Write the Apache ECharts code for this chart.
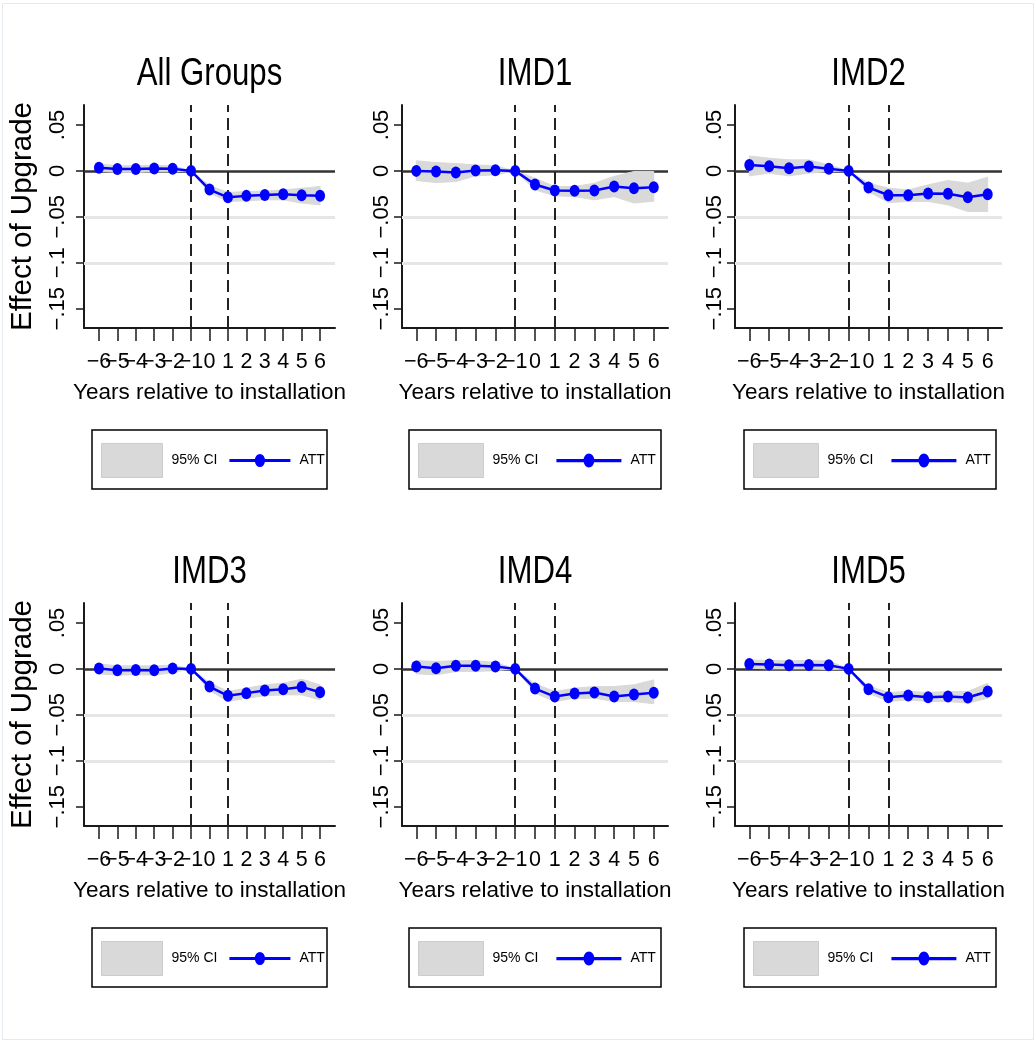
<!DOCTYPE html>
<html><head><meta charset="utf-8">
<script src="https://cdn.jsdelivr.net/npm/echarts@6/dist/echarts.min.js"></script>
<style>html,body{margin:0;padding:0;background:#fff}#c{width:1036px;height:1042px}</style>
</head><body><div id="c"></div>
<script>
// ---------- data ----------
const panelTitles = ['All Groups', 'IMD1', 'IMD2', 'IMD3', 'IMD4', 'IMD5'];
const years = [-6, -5, -4, -3, -2, -1, 0, 1, 2, 3, 4, 5, 6];
const xTickLabels = ['−6', '−5', '−4', '−3', '−2', '−1', '0', '1', '2', '3', '4', '5', '6'];
const yTickValues = [0.05, 0, -0.05, -0.1, -0.15];
const yTickLabels = ['.05', '0', '−.05', '−.1', '−.15'];
const installLinesX = [-1, 1];
const gridLinesY = [-0.05, -0.1];
const xAxisTitle = 'Years relative to installation';
const yAxisTitle = 'Effect of Upgrade';

const attAll  = [0.0035, 0.002, 0.002, 0.0025, 0.0022, 0, -0.0203, -0.0288, -0.0272, -0.0262, -0.0255, -0.0265, -0.027];
const lowAll  = [-0.0005, -0.0015, -0.0015, -0.001, -0.001, 0, -0.024, -0.0333, -0.0326, -0.0315, -0.0315, -0.035, -0.037];
const highAll = [0.0075, 0.0055, 0.0055, 0.006, 0.0055, 0, -0.016, -0.0235, -0.0225, -0.022, -0.0207, -0.019, -0.017];

const attIMD1  = [0.0, -0.0007, -0.0018, 0.0004, 0.0007, 0, -0.0149, -0.0214, -0.0217, -0.0214, -0.017, -0.0188, -0.0178];
const lowIMD1  = [-0.0105, -0.0127, -0.0116, -0.0054, -0.0043, 0, -0.0207, -0.027, -0.028, -0.0315, -0.028, -0.035, -0.033];
const highIMD1 = [0.011, 0.009, 0.008, 0.0065, 0.0054, 0, -0.008, -0.017, -0.017, -0.0134, -0.006, -0.0007, -0.0007];

const attIMD2  = [0.0065, 0.0051, 0.0029, 0.0047, 0.0022, 0, -0.0181, -0.0264, -0.0264, -0.0246, -0.025, -0.0286, -0.0254];
const lowIMD2  = [-0.0054, -0.0025, -0.0054, -0.0025, -0.0007, 0, -0.0225, -0.0344, -0.0333, -0.0333, -0.037, -0.0442, -0.0442];
const highIMD2 = [0.0163, 0.0138, 0.012, 0.012, 0.0065, 0, -0.0134, -0.0188, -0.0207, -0.0152, -0.0105, -0.0134, -0.0069];

const attIMD3  = [0.0004, -0.0014, -0.0011, -0.0014, 0.0004, 0, -0.0192, -0.0293, -0.0264, -0.0235, -0.0221, -0.0196, -0.0254];
const lowIMD3  = [-0.0054, -0.0069, -0.0062, -0.0069, -0.004, 0, -0.0235, -0.0355, -0.032, -0.0293, -0.0283, -0.0283, -0.0337];
const highIMD3 = [0.0054, 0.0033, 0.0033, 0.0033, 0.004, 0, -0.0149, -0.0246, -0.021, -0.0174, -0.0156, -0.0112, -0.0174];

const attIMD4  = [0.0025, 0.0007, 0.0033, 0.0033, 0.0025, 0, -0.0214, -0.0301, -0.0268, -0.0257, -0.0301, -0.0279, -0.0261];
const lowIMD4  = [-0.0054, -0.0065, -0.0029, -0.0029, -0.0018, 0, -0.0264, -0.0355, -0.0319, -0.0319, -0.0355, -0.0355, -0.038];
const highIMD4 = [0.009, 0.008, 0.009, 0.009, 0.007, 0, -0.0163, -0.0246, -0.021, -0.0192, -0.0192, -0.0174, -0.012];

const attIMD5  = [0.0054, 0.0047, 0.004, 0.0043, 0.004, 0, -0.0221, -0.0308, -0.029, -0.0308, -0.0301, -0.0312, -0.0246];
const lowIMD5  = [0.0007, 0.0, 0.0, 0.0, -0.0007, 0, -0.0264, -0.0355, -0.0337, -0.0355, -0.0355, -0.0373, -0.0319];
const highIMD5 = [0.0098, 0.0091, 0.0091, 0.0091, 0.0087, 0, -0.0185, -0.0257, -0.0246, -0.0257, -0.0246, -0.0246, -0.0156];

const attSeries  = [attAll, attIMD1, attIMD2, attIMD3, attIMD4, attIMD5];
const lowSeries  = [lowAll, lowIMD1, lowIMD2, lowIMD3, lowIMD4, lowIMD5];
const highSeries = [highAll, highIMD1, highIMD2, highIMD3, highIMD4, highIMD5];

// ---------- layout / style ----------
const FONT = "'Liberation Sans', Arial, sans-serif";
const INK = '#1a1a1a';
const BLUE = '#0000ff';
const BAND = '#d9d9d9';
const cols = [
  { left: 84, width: 251, xr: 6.81, ylabMargin: 15, legLeft: 92, legW: 235, iconW: 61, gap: 12 },
  { left: 402, width: 266, xr: 6.72, ylabMargin: 9, legLeft: 409, legW: 252, iconW: 65, gap: 18 },
  { left: 735, width: 267, xr: 6.72, ylabMargin: 9, legLeft: 744, legW: 252, iconW: 65, gap: 18 }
];
const rows = [{ top: 105, height: 223, titleY: 75, legTop: 430 }, { top: 603, height: 223, titleY: 573, legTop: 928 }];
const Y_MIN = -0.171, Y_MAX = 0.0717;
const attIcon = 'path://M0,5 L60,5 L60,8 L0,8 Z M30,0 A5,6.5 0 1 1 30,13 A5,6.5 0 1 1 30,0 Z';
const ellipse = 'path://M0,-1 A1,1 0 1 1 0,1 A1,1 0 1 1 0,-1 Z';
// tick labels split over two overlaid bottom axes so that neighbouring labels may overlap as in the original
const labelsEven = years.filter((y, i) => i % 2 === 0);
const labelsOdd = years.filter((y, i) => i % 2 === 1);
const xLabelFmt = v => { const i = years.indexOf(Math.round(v)); return i >= 0 ? xTickLabels[i] : ''; };
const xLabelStyle = { showMinLabel: true, showMaxLabel: true, hideOverlap: false, margin: 23, fontSize: 21.5, fontFamily: FONT, color: '#000', formatter: xLabelFmt };

const grids = [], xAxes = [], yAxes = [], series = [], legends = [], graphics = [];

graphics.push({ type: 'rect', shape: { x: 2.5, y: 3.5, width: 1031, height: 1036 }, style: { fill: 'none', stroke: '#e4eaee', lineWidth: 1 }, silent: true });

for (let p = 0; p < 6; p++) {
  const c = cols[p % 3], r = rows[Math.floor(p / 3)];
  grids.push({ left: c.left, top: r.top, width: c.width, height: r.height, outerBoundsMode: 'none', containLabel: false });
  xAxes.push({
    type: 'value', gridIndex: p, position: 'bottom', min: -c.xr, max: c.xr,
    axisLine: { show: true, onZero: false, lineStyle: { color: INK, width: 2 } },
    axisTick: { show: true, length: 13, customValues: years, lineStyle: { color: INK, width: 1.5 } },
    axisLabel: Object.assign({ customValues: labelsEven }, xLabelStyle),
    splitLine: { show: false },
    name: xAxisTitle, nameLocation: 'middle', nameGap: 53,
    nameTextStyle: { fontSize: 22.5, fontFamily: FONT, color: '#000' }
  });
  xAxes.push({
    type: 'value', gridIndex: p, position: 'bottom', min: -c.xr, max: c.xr,
    axisLine: { show: false, onZero: false }, axisTick: { show: false },
    axisLabel: Object.assign({ customValues: labelsOdd }, xLabelStyle),
    splitLine: { show: false }
  });
  yAxes.push({
    type: 'value', gridIndex: p, min: Y_MIN, max: Y_MAX,
    axisLine: { show: true, onZero: false, lineStyle: { color: INK, width: 2 } },
    axisTick: { show: true, length: 8, customValues: yTickValues, lineStyle: { color: INK, width: 1.5 } },
    axisLabel: {
      customValues: yTickValues, showMinLabel: true, showMaxLabel: true, hideOverlap: false,
      rotate: 90, margin: c.ylabMargin, fontSize: 22, fontFamily: FONT, color: '#000',
      formatter: v => { const i = yTickValues.findIndex(t => Math.abs(t - v) < 1e-9); return i >= 0 ? yTickLabels[i] : ''; }
    },
    splitLine: { show: false },
    name: p % 3 === 0 ? yAxisTitle : '', nameLocation: 'middle', nameRotate: 90, nameGap: 46,
    nameTextStyle: { fontSize: 29.5, fontFamily: FONT, color: '#000' }
  });
  const low = lowSeries[p], high = highSeries[p], att = attSeries[p];
  series.push({
    name: '95% CI', type: 'custom', xAxisIndex: 2 * p, yAxisIndex: p,
    data: years.map((x, j) => [x, low[j], high[j]]),
    encode: { x: 0, y: [1, 2] },
    renderItem: (params, api) => {
      if (params.dataIndex !== 0) return null;
      const pts = [];
      for (let k = 0; k < years.length; k++) pts.push(api.coord([years[k], high[k]]));
      for (let k = years.length - 1; k >= 0; k--) pts.push(api.coord([years[k], low[k]]));
      return { type: 'polygon', shape: { points: pts }, style: { fill: BAND, stroke: BAND, lineWidth: 1 } };
    },
    itemStyle: { color: BAND }, silent: true, z: 2, animation: false
  });
  series.push({
    name: 'ATT', type: 'line', xAxisIndex: 2 * p, yAxisIndex: p,
    data: years.map((x, j) => [x, att[j]]),
    symbol: ellipse, symbolSize: [10, 12], showSymbol: true,
    lineStyle: { color: BLUE, width: 2.5 }, itemStyle: { color: BLUE },
    z: 3, animation: false,
    markLine: {
      silent: true, symbol: 'none', z: 1, animation: false, label: { show: false },
      data: [
        ...gridLinesY.map(v => ({ yAxis: v, lineStyle: { color: '#e6e6e6', width: 3, type: 'solid' } })),
        { yAxis: 0, lineStyle: { color: '#333333', width: 2.5, type: 'solid' } },
        ...installLinesX.map(v => ({ xAxis: v, lineStyle: { color: '#222222', width: 2, type: [12, 6] } }))
      ]
    }
  });
  legends.push({
    show: true, orient: 'horizontal', left: c.legLeft + 9, top: r.legTop + 13, padding: 0,
    itemWidth: c.iconW, itemHeight: 34, itemGap: c.gap, selectedMode: false,
    textStyle: { fontSize: 14, fontFamily: FONT, color: '#000', padding: [0, 0, 0, 4] },
    data: [
      { name: '95% CI', icon: 'rect', itemStyle: { color: BAND, borderColor: '#cccccc', borderWidth: 1 } },
      { name: 'ATT', icon: attIcon, itemStyle: { color: BLUE } }
    ]
  });
  graphics.push({ type: 'rect', shape: { x: c.legLeft, y: r.legTop, width: c.legW, height: 59 }, style: { fill: 'none', stroke: '#000', lineWidth: 1.5 }, silent: true });
  graphics.push({ type: 'text', x: c.left + c.width / 2, y: r.titleY, scaleX: 0.82, style: { text: panelTitles[p], font: '38px ' + FONT, fill: '#000', textAlign: 'center', textVerticalAlign: 'middle' }, silent: true });
}

const chart = echarts.init(document.getElementById('c'), null, { renderer: 'canvas' });
chart.setOption({
  backgroundColor: '#ffffff',
  animation: false,
  grid: grids, xAxis: xAxes, yAxis: yAxes, series: series, legend: legends, graphic: graphics,
  tooltip: { show: false }
});
</script></body></html>
